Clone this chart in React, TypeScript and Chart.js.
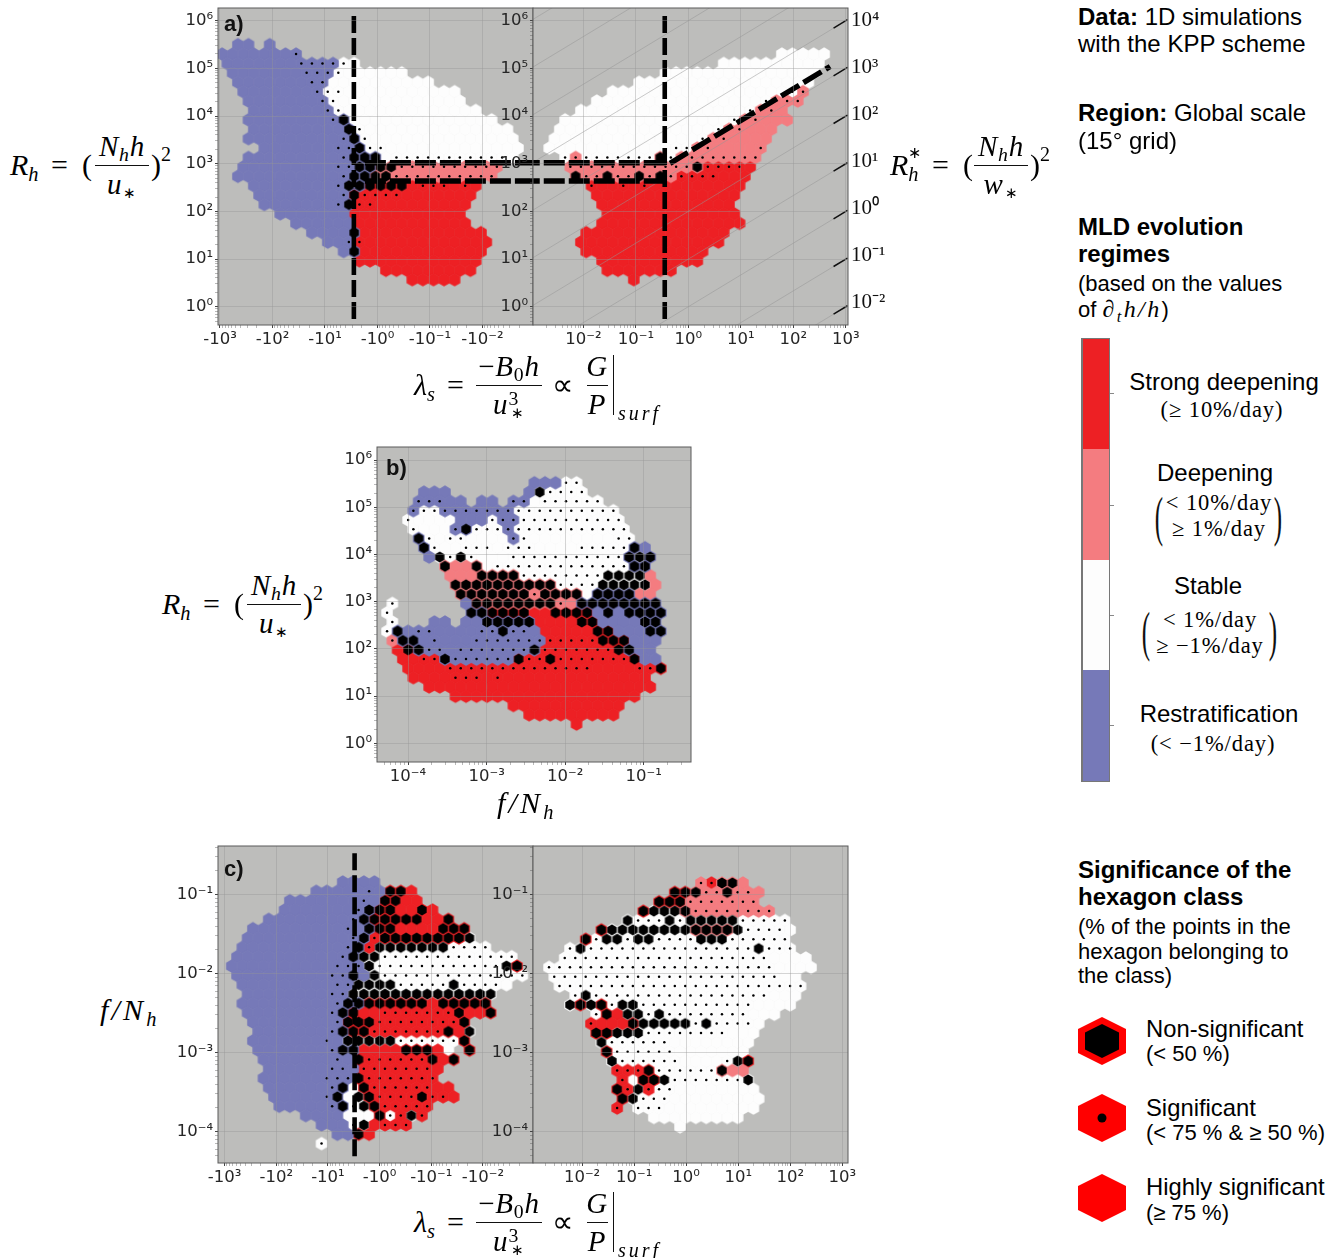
import React, { useEffect, useRef } from "react";
import { Chart, registerables } from "chart.js";

Chart.register(...registerables);

// ---- hexagon class maps: run-length rows, one char per hexagon of the hexbin lattice.
// B/W/P/R = class, highly significant; b/w/p/r = significant (dot); K/L/M/N = not significant (black).
const aLeftRows = ["2.2B.B","7Bb",".7B4b2w",".7B3bw6W","2.7B2b10W","2.7Bb2w11W","3.7Bbw12W","3.7Bbw13W","3.8BbK14W","3.9BKw14W","3.9BbKw14W","4.7B2bK2w13W","3.9Bb3KW11wW","2.9B2b2K2M10p","2.10Bb2K2M10p","3.8Bb2K4NR3rRrR","4.8BbN4r7R","4.7BbK2r9R","6.7B11R","7.6B11R","9.4BK12R","10.2Bbr12R","12.BK12R","13.12R","16.9R","18.5R"];
const aRightRows = ["","22.5W","17.10W","11.15W","9.17W","6.17Wwp","5.16WwP2p","3.16WwPpP","2.16WwPp3P",".15WwPp3P",".14WwPp4P","12W2wPp4Pp","2.wp7wMw8p","2.12pM4rR","3.M2pM2pMpMp4r3R","4.r2RrRr9R","5.14R","5.13R","6.13R","5.14R","4.14R","3.14R","4.12R","5.10R","6.7R","8.R"];
const bRows = ["14.3B2w","3.3B7.BL4w","3.3b2B.2B.2bW6w","2.b2w7b10w","2.w4W3Bw2b10w","2.w3WbK3wb11w","3.KwW2w4Wbw8W2w","3.Kw2W3wW3w4W5wKB","4.BLwLw3W11wKLK","5.M2PMW13w2K","6.3P4M8w4LP","6.10M4w5LP","7.7Mp4MW4K2P","w6.B8MpP8K","w7.2K4N2R4NBKB4K","w3.2B.2B5K4R2N4B2K","wKB2b4B2bK2bB5R2N3B2K","p2KBb3B7b5r3N3B",".RNK2bB7bK7rNK2B",".2R2rK6bN2rN7rN2B","2.4R14r4R2rN","2.4R3rRr14R","4.22R","6.18R","12.11R","13.9R","18.R"];
const cLeftRows = ["11.4B","8.5BbB2NR","6.7BbB2N2R","5.7BbK2N2RNR","4.8BbK5N2RN","2.9BbBK2N4R3N","2.10BbKr8NL",".10BbKr7L4w",".10BbK2L13w","10B3bL12wLN",".9B2bKBL14w",".9B2b4L5wL4wW","2.8B2b14L",".9Bb2K6NR5N","2.8BbKN2R7rN2RN","2.8Bb3N8rN","3.7BbK2N7rNRL","2.7BbB5L6wN","3.7Bb2K4R3NRW.N","3.7BbBN6rNRN","4.6B2bB7rR","3.6B3bN7r","4.6BbKWN6r2R","4.5BbKWLN4rN2rR","5.5BbKwLN5r","7.4B3WNwrLr","9.3BwLR3r","10.2BNR","9.w"];
const cRightRows = ["15.pr2MP","12.2NM2pM2pP","11.3N7p","9.N3LM8p","8.L3wLw5L5w","5.N8L4ML4wW","4.Nw2Lw2L4w3L6w","2.wL16wL3w","2.20w4W","22w4W",".22w2W",".24w","3.wL17w3W","2.LNLNw2L11w4W","5.wNR2LwL8w3W","4.r3RN5LwL4wW","5.2N3L8w3W","5.L6w8W","6.N6w7W","6.L6w4WwLN","7.3rN6wM2P","7.rW2NL7wL","7.NrLr2w8W","7.NL3w9W","7.r.3w9W","10.9W","13.W"];

// lattice origin and spacing of each panel, in decades
const aLeftLattice = [-3.061, 0.2013, 5.497, 0.1972];
const aRightLattice = [-2.751, 0.2014, 5.497, 0.1972];
const bLattice = [-4.267, 0.134, 5.518, 0.1965];
const cLeftLattice = [-2.964, 0.2045, -0.839, 0.1183];
const cRightLattice = [-2.735, 0.2013, -0.852, 0.1187];

// axis ranges, in decades
const aLeftX = [-3.038, 2.962];
const aRightX = [-2.959, 3.04];
const aY = [-0.384, 6.266];
const aY2 = [-2.489, 4.255];
const bX = [-4.395, -0.398];
const bY = [-0.395, 6.276];
const cLeftX = [-3.128, 2.969];
const cRightX = [-2.942, 3.108];
const cY = [-4.397, -0.384];

// tick decades
const aLeftXTicks = [-3, -2, -1, 0, 1, 2];
const aRightXTicks = [-2, -1, 0, 1, 2, 3];
const aYTicks = [0, 1, 2, 3, 4, 5, 6];
const aY2Ticks = [-2, -1, 0, 1, 2, 3, 4];
const bXTicks = [-4, -3, -2, -1];
const cYTicks = [-4, -3, -2, -1];

// regime limits drawn as dashed lines (decades)
const lambdaCrit = -0.45;
const cLambdaCrit = -0.484;
const rhLines = [3.02, 2.636];
const rStarCrit = 3.24;
const rStarDecades = [-4, -3, -2, -1, 0, 1, 2, 3, 4, 5, 6, 7, 8];
const rStarTicks = [-2, -1, 0, 1, 2, 3, 4];

const COLORS: any = { blue: "#7679b8", white: "#fdfdfd", pink: "#f47c80", red: "#ed2024" };
const BG = "#bdbdbb";
const CLASS: any = {
  B: ["blue", 0], b: ["blue", 1], K: ["blue", 2],
  W: ["white", 0], w: ["white", 1], L: ["white", 2],
  P: ["pink", 0], p: ["pink", 1], M: ["pink", 2],
  R: ["red", 0], r: ["red", 1], N: ["red", 2],
};
const SUP: any = { "-": "⁻", 0: "⁰", 1: "¹", 2: "²", 3: "³", 4: "⁴", 5: "⁵", 6: "⁶", 7: "⁷", 8: "⁸", 9: "⁹" };
const pow10 = (n: number) => "10" + String(n).split("").map((c) => SUP[c]).join("");

function parseCells(rows: string[], lat: number[]) {
  const out: any = { blue: [], white: [], pink: [], red: [], black: [], dots: [] };
  const [x0, dx, y0, dy] = lat;
  rows.forEach((row, r) => {
    let i = 0;
    for (const m of row.matchAll(/(\d*)([.A-Za-z])/g)) {
      const n = m[1] ? parseInt(m[1], 10) : 1;
      for (let k = 0; k < n; k++, i++) {
        if (m[2] === ".") continue;
        const [cls, sig] = CLASS[m[2]];
        const pt = { x: x0 + dx * i + (r % 2 ? dx / 2 : 0), y: y0 - dy * r };
        out[cls].push(pt);
        if (sig === 1) out.dots.push(pt);
        if (sig === 2) out.black.push(pt);
      }
    }
  });
  return out;
}

function hexImage(color: string, w: number, h: number) {
  const c = document.createElement("canvas");
  c.width = 18;
  c.height = 20;
  const g = c.getContext("2d")!;
  g.fillStyle = color;
  g.beginPath();
  g.moveTo(9, 10 - h / 2);
  g.lineTo(9 + w / 2, 10 - h / 4);
  g.lineTo(9 + w / 2, 10 + h / 4);
  g.lineTo(9, 10 + h / 2);
  g.lineTo(9 - w / 2, 10 + h / 4);
  g.lineTo(9 - w / 2, 10 - h / 4);
  g.closePath();
  g.fill();
  return c;
}

const framePlugin = {
  id: "frame",
  beforeDraw(chart: any) {
    const a = chart.chartArea;
    chart.ctx.save();
    chart.ctx.fillStyle = BG;
    chart.ctx.fillRect(a.left, a.top, a.right - a.left, a.bottom - a.top);
    chart.ctx.restore();
  },
  afterDraw(chart: any) {
    const a = chart.chartArea;
    chart.ctx.save();
    chart.ctx.strokeStyle = "#5a5a5a";
    chart.ctx.lineWidth = 1;
    chart.ctx.strokeRect(a.left, a.top, a.right - a.left, a.bottom - a.top);
    chart.ctx.restore();
  },
};

const isMajor = (v: number) => Math.abs(v - Math.round(v)) < 1e-6;

function makeAxis(range: number[], ticks: number[], label: (n: number) => string, font: number, isY: boolean, sign: number, fixed: number) {
  return {
    type: "linear",
    min: range[0],
    max: range[1],
    afterBuildTicks(axis: any) {
      const vals: number[] = [];
      for (let d = Math.floor(range[0]) - 1; d <= Math.ceil(range[1]) + 1; d++) {
        vals.push(d);
        for (let k = 2; k < 10; k++) vals.push(d + sign * Math.log10(k));
      }
      axis.ticks = vals.filter((v) => v >= range[0] && v <= range[1]).sort((a, b) => a - b).map((value) => ({ value }));
    },
    afterFit(s: any) {
      if (isY) s.width = fixed;
      else s.height = fixed;
      s.paddingTop = 0;
      s.paddingBottom = 0;
      s.paddingLeft = 0;
      s.paddingRight = 0;
    },
    ticks: {
      autoSkip: false,
      maxRotation: 0,
      minRotation: 0,
      padding: 2,
      color: "#262626",
      font: { family: "DejaVu Sans", size: font },
      callback: (v: number) => (isMajor(v) && ticks.includes(Math.round(v)) ? label(Math.round(v)) : ""),
    },
    grid: {
      z: 1,
      tickLength: 3,
      tickWidth: 1,
      tickColor: (c: any) => (c.tick && isMajor(c.tick.value) ? "#444" : "rgba(80,80,80,.4)"),
      color: (c: any) => (c.tick && isMajor(c.tick.value) ? "rgba(150,150,150,.4)" : "transparent"),
    },
    border: { display: false },
  };
}

function hexDatasets(rows: string[], lat: number[]) {
  const cells = parseCells(rows, lat);
  const W = 11.5, H = 13.5;
  const pts = (data: any[], img: any) => ({ data, pointStyle: img, pointRadius: 5, showLine: false });
  return [
    { data: cells.dots, pointStyle: "circle", pointRadius: 1.25, pointBackgroundColor: "#000", pointBorderWidth: 0, showLine: false },
    pts(cells.black, hexImage("#000", 9.4, 10.8)),
    pts(cells.blue, hexImage(COLORS.blue, W, H)),
    pts(cells.pink, hexImage(COLORS.pink, W, H)),
    pts(cells.red, hexImage(COLORS.red, W, H)),
    pts(cells.white, hexImage(COLORS.white, W, H)),
  ];
}

const heavy = (a: number[], b: number[], dash: number[], width = 4.6) => ({
  data: [{ x: a[0], y: a[1] }, { x: b[0], y: b[1] }],
  showLine: true,
  pointRadius: 0,
  borderColor: "#000",
  borderWidth: width,
  borderDash: dash,
  borderCapStyle: "butt",
});

function aLeftExtras() {
  return [
    heavy([lambdaCrit, 6.1], [lambdaCrit, -0.32], [17, 5]),
    ...rhLines.map((y) => heavy([-0.24, y], [3, y], [21, 4], 5.4)),
  ];
}
function aRightExtras() {
  const grey = rStarDecades.map((n) => ({
    data: [{ x: -3, y: n - 2 }, { x: 3.1, y: n + (2 / 3) * 3.1 }],
    showLine: true, pointRadius: 0, borderColor: "rgba(150,150,150,.5)", borderWidth: 1,
  }));
  const ticks = rStarTicks.map((n) => ({
    data: [{ x: 2.765, y: n + (2 / 3) * 2.765 }, { x: 3.03, y: n + (2 / 3) * 3.03 }],
    showLine: true, pointRadius: 0, borderColor: "#111", borderWidth: 1.5, clip: false,
  }));
  return [
    heavy([lambdaCrit, 6.1], [lambdaCrit, -0.32], [17, 5]),
    ...rhLines.map((y) => heavy([lambdaCrit, y], [-3, y], [21, 4], 5.4)),
    heavy([-0.35, rStarCrit + (2 / 3) * -0.35], [2.7, rStarCrit + (2 / 3) * 2.7], [21, 5], 5.4),
    ...ticks,
    ...grey,
  ];
}
function cLeftExtras() {
  return [heavy([cLambdaCrit, -0.477], [cLambdaCrit, -4.33], [17, 5])];
}

function Panel({ left, top, width, height, pad, build }: any) {
  const ref = useRef<HTMLCanvasElement>(null);
  useEffect(() => {
    const chart = new Chart(ref.current!, build(pad));
    return () => chart.destroy();
  }, []);
  return <canvas ref={ref} width={width} height={height} style={{ position: "absolute", left, top, width, height }} />;
}

function config(datasets: any[], x: any, y: any, pad: any, y2?: any) {
  return {
    type: "scatter",
    data: { datasets },
    plugins: [framePlugin],
    options: {
      animation: false,
      responsive: false,
      events: [],
      layout: { padding: pad },
      plugins: { legend: { display: false }, tooltip: { enabled: false } },
      scales: y2 ? { x, y, y2 } : { x, y },
    },
  };
}

const posLabel = (n: number) => pow10(n);
// left half of a) and c): axis runs from -10^3 to -10^-2, position = -exponent
const negTick = (p: number) => "-" + pow10(-p);

const y2Axis = {
  type: "linear",
  position: "right",
  min: aY2[0],
  max: aY2[1],
  afterBuildTicks(axis: any) {
    axis.ticks = aY2Ticks.map((value) => ({ value }));
  },
  afterFit(s: any) {
    s.width = 60;
    s.paddingTop = 0;
    s.paddingBottom = 0;
  },
  grid: { drawOnChartArea: false, drawTicks: false },
  border: { display: false },
  ticks: {
    autoSkip: false,
    padding: 3,
    color: "#111",
    font: { family: "Liberation Serif", size: 21 },
    callback: (v: number) => posLabel(Math.round(v)),
  },
};

const T = ({ x, y, size = 24, bold, serif, italic, center, ls, color = "#000", children }: any) => (
  <span
    style={{
      position: "absolute",
      left: x,
      top: y,
      transform: center ? "translate(-50%,-50%)" : "translateY(-50%)",
      fontFamily: serif ? "Liberation Serif" : "Liberation Sans",
      fontSize: size,
      fontWeight: bold ? 700 : 400,
      fontStyle: italic ? "italic" : "normal",
      whiteSpace: "nowrap",
      lineHeight: 1,
      letterSpacing: ls,
      color,
    }}
  >
    {children}
  </span>
);

const Sub = ({ children }: any) => <sub style={{ fontSize: ".68em", lineHeight: 0, verticalAlign: "-.28em" }}>{children}</sub>;
const Sup = ({ children }: any) => <sup style={{ fontSize: ".68em", lineHeight: 0, verticalAlign: ".45em" }}>{children}</sup>;
const Star = () => <sub style={{ fontSize: ".5em", lineHeight: 0, verticalAlign: "-.3em", fontStyle: "normal", marginLeft: 1 }}>∗</sub>;

const Frac = ({ cx, y, w, num, den }: any) => (
  <>
    <T x={cx} y={y - 19} size={29} serif center ls={0.8}>{num}</T>
    <div style={{ position: "absolute", left: cx - w / 2, top: y - 0.5, width: w, height: 1.3, background: "#111" }} />
    <T x={cx} y={y + 19} size={29} serif center ls={0.8}>{den}</T>
  </>
);

const Rh = ({ x, y }: any) => (
  <>
    <T x={x} y={y} size={30} serif italic>R<Sub>h</Sub></T>
    <T x={x + 41} y={y} size={30} serif>=</T>
    <T x={x + 72} y={y} size={30} serif>(</T>
    <Frac cx={x + 112} y={y} w={54} num={<i>N<Sub>h</Sub>h</i>} den={<i>u<Star /></i>} />
    <T x={x + 141} y={y} size={30} serif>)</T>
    <T x={x + 151} y={y - 11} size={20} serif>2</T>
  </>
);

const Lambda = ({ y }: any) => (
  <>
    <T x={414} y={y} size={30} serif italic>λ<Sub>s</Sub></T>
    <T x={447} y={y} size={30} serif>=</T>
    <Frac cx={509} y={y} w={66} num={<><span>−</span><i>B</i><Sub>0</Sub><i>h</i></>} den={<><i>u</i><Sup>3</Sup><i style={{ marginLeft: -9 }}><Star /></i></>} />
    <T x={552} y={y} size={30} serif>∝</T>
    <Frac cx={597} y={y} w={21} num={<i>G</i>} den={<i>P</i>} />
    <div style={{ position: "absolute", left: 613, top: y - 30, width: 1.3, height: 60, background: "#111" }} />
    <T x={618} y={y + 28} size={20} serif italic ls={3}>surf</T>
  </>
);

const Hex = ({ top, inner, dot }: any) => (
  <svg style={{ position: "absolute", left: 1078, top }} width={48} height={48} viewBox="0 0 48 48">
    <polygon points="24,0 48,12 48,36 24,48 0,36 0,12" fill="#ff0000" />
    {inner && <polygon points="24,7 41,15.5 41,32.5 24,41 7,32.5 7,15.5" fill="#000" />}
    {dot && <circle cx="24" cy="24" r="4.5" fill="#000" />}
  </svg>
);

const Paren = ({ x, y, ch }: any) => (
  <span style={{ position: "absolute", left: x, top: y, transform: "translate(-50%,-50%) scaleY(2.2)", fontFamily: "Liberation Serif", fontSize: 25, lineHeight: 1, color: "#111", fontWeight: 400 }}>{ch}</span>
);

const Seg = ({ top, h, c }: any) => <div style={{ position: "absolute", left: 1083, top, width: 26, height: h, background: c }} />;

const M = ({ x, y, children }: any) => <T x={x} y={y} size={22.5} serif center ls={0.9}>{children}</T>;

export default function App() {
  return (
    <div style={{ position: "absolute", left: 0, top: 0, width: 1336, height: 1258, background: "#fff", overflow: "hidden" }}>
      <Panel left={178} top={0} width={385} height={355} pad={{ top: 8, right: 30, left: 0, bottom: 0 }}
        build={(pad: any) => config([...aLeftExtras(), ...hexDatasets(aLeftRows, aLeftLattice)],
          makeAxis(aLeftX, aLeftXTicks, negTick, 16.5, false, -1, 30),
          makeAxis(aY, aYTicks, posLabel, 16.5, true, 1, 40), pad)} />
      <Panel left={493} top={0} width={415} height={355} pad={{ top: 8, right: 0, left: 0, bottom: 0 }}
        build={(pad: any) => config([...aRightExtras(), ...hexDatasets(aRightRows, aRightLattice)],
          makeAxis(aRightX, aRightXTicks, posLabel, 16.5, false, 1, 30),
          makeAxis(aY, aYTicks, posLabel, 16.5, true, 1, 40), pad, y2Axis)} />

      <Panel left={336} top={440} width={385} height={352} pad={{ top: 7, right: 30, left: 0, bottom: 0 }}
        build={(pad: any) => config(hexDatasets(bRows, bLattice),
          makeAxis(bX, bXTicks, posLabel, 16.5, false, 1, 30),
          makeAxis(bY, aYTicks, posLabel, 16.5, true, 1, 41), pad)} />

      <Panel left={178} top={840} width={385} height={353} pad={{ top: 6, right: 30, left: 0, bottom: 0 }}
        build={(pad: any) => config([...cLeftExtras(), ...hexDatasets(cLeftRows, cLeftLattice)],
          makeAxis(cLeftX, aLeftXTicks, negTick, 16.5, false, -1, 30),
          makeAxis(cY, cYTicks, posLabel, 16.5, true, 1, 40), pad)} />
      <Panel left={493} top={840} width={385} height={353} pad={{ top: 6, right: 30, left: 0, bottom: 0 }}
        build={(pad: any) => config(hexDatasets(cRightRows, cRightLattice),
          makeAxis(cRightX, aRightXTicks, posLabel, 16.5, false, 1, 30),
          makeAxis(cY, cYTicks, posLabel, 16.5, true, 1, 40), pad)} />

      <T x={224} y={24} size={22} bold color="#111">a)</T>
      <T x={386} y={468} size={22} bold color="#111">b)</T>
      <T x={224} y={869} size={22} bold color="#111">c)</T>

      <Rh x={10} y={165} />
      <Rh x={162} y={604} />
      <T x={890} y={165} size={30} serif italic>R<Sub>h</Sub></T>
      <T x={908} y={153} size={16} serif>∗</T>
      <T x={932} y={165} size={30} serif>=</T>
      <T x={963} y={165} size={30} serif>(</T>
      <Frac cx={1001} y={165} w={54} num={<i>N<Sub>h</Sub>h</i>} den={<i>w<Star /></i>} />
      <T x={1030} y={165} size={30} serif>)</T>
      <T x={1040} y={154} size={20} serif>2</T>
      <Lambda y={385} />
      <Lambda y={1222} />
      <T x={497} y={803} size={30} serif italic ls={3.2}>f/N<Sub>h</Sub></T>
      <T x={100} y={1010} size={30} serif italic ls={3.2}>f/N<Sub>h</Sub></T>

      <T x={1078} y={17}><b>Data:</b> 1D simulations</T>
      <T x={1078} y={44}>with the KPP scheme</T>
      <T x={1078} y={113}><b>Region:</b> Global scale</T>
      <T x={1078} y={141}>(15° grid)</T>
      <T x={1078} y={227} bold>MLD evolution</T>
      <T x={1078} y={254} bold>regimes</T>
      <T x={1078} y={284} size={22}>(based on the values</T>
      <T x={1078} y={309} size={22}>of <span style={{ fontFamily: "Liberation Serif", fontStyle: "italic", fontSize: 24, letterSpacing: 2.4 }}>∂<Sub>t</Sub>h/h</span>)</T>

      <div style={{ position: "absolute", left: 1081, top: 338, width: 29, height: 444, background: "#777" }} />
      <Seg top={339} h={110} c={COLORS.red} />
      <Seg top={449} h={111} c={COLORS.pink} />
      <Seg top={560} h={110} c={COLORS.white} />
      <Seg top={670} h={111} c={COLORS.blue} />
      {[393, 505, 615, 725].map((y) => (
        <div key={y} style={{ position: "absolute", left: 1110, top: y, width: 4, height: 1, background: "#888" }} />
      ))}

      <T x={1224} y={382} center>Strong deepening</T>
      <M x={1222} y={410}>(≥ 10%/day)</M>
      <T x={1215} y={473} center>Deepening</T>
      <M x={1219} y={503}>&lt; 10%/day</M>
      <M x={1219} y={529}>≥ 1%/day</M>
      <Paren x={1159} y={516} ch="(" />
      <Paren x={1278} y={516} ch=")" />
      <T x={1208} y={586} center>Stable</T>
      <M x={1210} y={620}>&lt; 1%/day</M>
      <M x={1210} y={646}>≥ −1%/day</M>
      <Paren x={1146} y={631} ch="(" />
      <Paren x={1273} y={631} ch=")" />
      <T x={1219} y={714} center>Restratification</T>
      <M x={1213} y={744}>(&lt; −1%/day)</M>

      <T x={1078} y={870} bold>Significance of the</T>
      <T x={1078} y={897} bold>hexagon class</T>
      <T x={1078} y={927} size={22}>(% of the points in the</T>
      <T x={1078} y={952} size={22}>hexagon belonging to</T>
      <T x={1078} y={976} size={22}>the class)</T>

      <Hex top={1017} inner />
      <T x={1146} y={1029} size={23.8}>Non-significant</T>
      <T x={1146} y={1054} size={22}>(&lt; 50 %)</T>
      <Hex top={1094} dot />
      <T x={1146} y={1108} size={23.8}>Significant</T>
      <T x={1146} y={1133} size={22}>(&lt; 75 % &amp; ≥ 50 %)</T>
      <Hex top={1174} />
      <T x={1146} y={1187} size={23.8}>Highly significant</T>
      <T x={1146} y={1213} size={22}>(≥ 75 %)</T>
    </div>
  );
}
